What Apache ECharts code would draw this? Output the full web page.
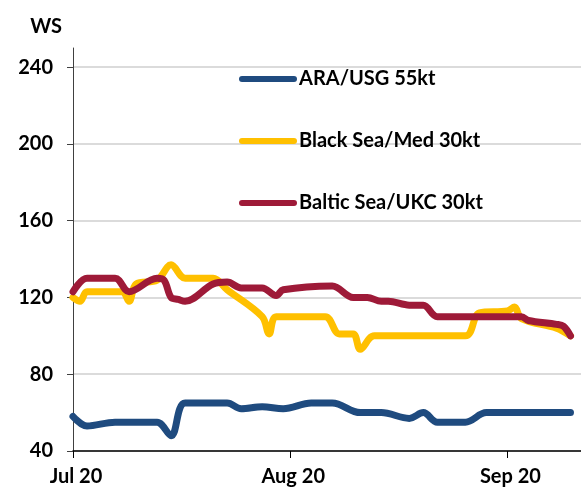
<!DOCTYPE html>
<html><head><meta charset="utf-8">
<script src="https://cdn.jsdelivr.net/npm/echarts@6/dist/echarts.min.js"></script>
<style>html,body{margin:0;padding:0;background:#fff}#c{width:581px;height:489px}</style>
</head><body><div id="c"></div>
<script>
// ---- data (year 2020, MM-DD) ----
const seriesNames = ['ARA/USG 55kt', 'Black Sea/Med 30kt', 'Baltic Sea/UKC 30kt'];
const araUsg = [['07-01',58],['07-03',53],['07-07',55],['07-13',55],['07-15',48],['07-17',65],['07-23',65],['07-25',62],['07-28',63],['07-31',62],['08-04',65],['08-07',65],['08-11',60],['08-14',60],['08-18',57],['08-20',60],['08-22',55],['08-26',55],['08-29',60],['09-10',60]];
const blackSeaMed = [['07-01',120],['07-02',118],['07-03',123],['07-08',123],['07-09',118],['07-10',127],['07-13',129],['07-15',137],['07-17',130],['07-21',130],['07-23',124],['07-28',110],['07-29',101],['07-30',110],['08-06',110],['08-08',101],['08-10',101],['08-11',93],['08-13',100],['08-26',100],['08-28',112],['09-01',113],['09-02',115],['09-03',109],['09-08',104],['09-10',100]];
const balticUkc = [['07-01',123],['07-03',130],['07-07',130],['07-09',123],['07-13',130],['07-14',129],['07-15',120],['07-16',119],['07-17',118],['07-21',127],['07-23',128],['07-25',125],['07-28',125],['07-30',121],['07-31',124],['08-07',126],['08-10',120],['08-12',120],['08-14',118],['08-15',118],['08-18',116],['08-20',116],['08-22',110],['09-03',110],['09-04',108],['09-08',106],['09-09',105],['09-10',100]];
const yTickValues = [40, 80, 120, 160, 200, 240];
const xTickDates = ['07-01', '08-01', '09-01'];
const xTickLabels = ['Jul 20', 'Aug 20', 'Sep 20'];
const colors = ['#1F4B7F', '#FFC000', '#9E1A38'];

const DAY = 86400000;
function t(md){ const p = md.split('-').map(Number); return Date.UTC(2020, p[0]-1, p[1]); }
const T0 = t('07-01');
function dayOf(md){ return Math.round((t(md) - T0) / DAY); }
const xTickVals = xTickDates.map(dayOf);
const font = {fontFamily:'Lato', fontWeight:'bold', fontSize:20, color:'#000'};

const chart = echarts.init(document.getElementById('c'), null, {renderer:'canvas'});
chart.setOption({
  animation:false,
  backgroundColor:'#fff',
  grid:{left:73, right:0, top:48, bottom:38, containLabel:false},
  legend:{
    orient:'vertical', left:239, top:69, padding:0, itemGap:42,
    itemWidth:58, itemHeight:6,
    icon:'path://M3,0L55,0A3,3,0,0,1,55,6L3,6A3,3,0,0,1,3,0Z',
    itemStyle:{borderWidth:0},
    textStyle:Object.assign({padding:[0,0,0,-3]}, font),
    data:seriesNames
  },
  xAxis:{
    type:'value', min:0, max:72.5,
    axisLine:{show:true, lineStyle:{color:'#000', width:1.5}},
    axisTick:{show:true, length:7, customValues:xTickVals, lineStyle:{color:'#000', width:1}},
    axisLabel:Object.assign({customValues:xTickVals, margin:16, padding:[0,0,0,6],
      formatter:function(v){ const i = xTickVals.indexOf(v); return i>=0 ? xTickLabels[i] : ''; }}, font),
    splitLine:{show:false}
  },
  yAxis:{
    type:'value', min:40, max:250, interval:40,
    name:'WS', nameLocation:'end', nameGap:21,
    nameTextStyle:Object.assign({align:'right', verticalAlign:'middle', padding:[0,11,0,0]}, font),
    axisLine:{show:true, lineStyle:{color:'#404040', width:1}},
    axisTick:{show:true, length:6, customValues:yTickValues, lineStyle:{color:'#404040'}},
    axisLabel:Object.assign({customValues:yTickValues, margin:20}, font),
    splitLine:{show:true, lineStyle:{color:'#cfcfcf', width:1.5}}
  },
  series:[araUsg, blackSeaMed, balticUkc].map(function(arr, i){
    return {
      name:seriesNames[i], type:'line', showSymbol:false, smooth:0.35,
      color:colors[i],
      lineStyle:{width:7, color:colors[i], cap:'round', join:'round'},
      data:arr.map(function(p){ return [dayOf(p[0]), p[1]]; })
    };
  })
});
</script></body></html>
